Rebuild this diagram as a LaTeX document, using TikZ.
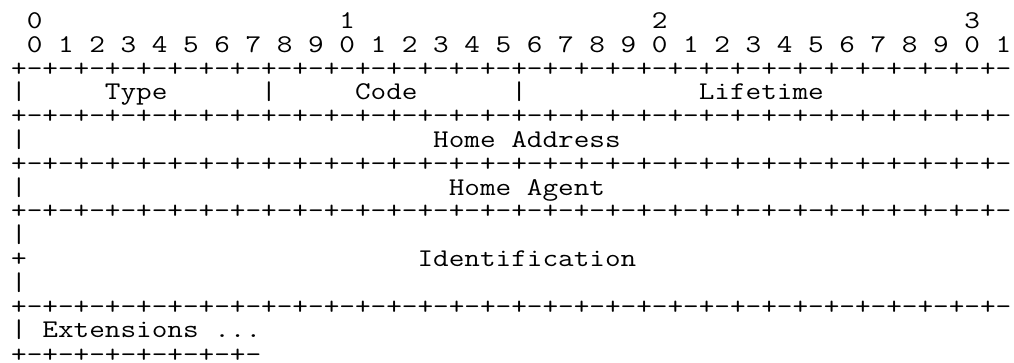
\documentclass[tikz,border=0pt]{standalone}
\usepackage{fontspec}
\usepackage{graphicx}
\newcommand\gap[1]{\hskip#1\fontcharwd\font`\0\relax}
\newcommand\bd{+-+-+-+-+-+-+-+-}
\newcommand\fullbd{\bd\bd\bd\bd}
\newcommand\mono[1]{\scalebox{1.19}[1]{#1}}
\begin{document}
\frenchspacing
\begin{tikzpicture}[x=1pt,y=1pt,
  asciirow/.style={anchor=base west, inner sep=0pt, outer sep=0pt,
    font=\fontsize{25.5pt}{23.8pt}\selectfont\ttfamily, text=black}]
\useasboundingbox (0,0) rectangle (1014,-362);
\node[asciirow] (L0)  at (11.2,-28.5)  {\mono{\gap{1}0\gap{19}1\gap{19}2\gap{19}3}};
\node[asciirow] (L1)  at (11.2,-52.3)  {\mono{\gap{1}0 1 2 3 4 5 6 7 8 9 0 1 2 3 4 5 6 7 8 9 0 1 2 3 4 5 6 7 8 9 0 1}};
\node[asciirow] (L2)  at (11.2,-76.1)  {\mono{\fullbd}};
\node[asciirow] (L3)  at (11.2,-99.9)  {\mono{|\gap{5}Type\gap{6}|\gap{5}Code\gap{6}|\gap{11}Lifetime}};
\node[asciirow] (L4)  at (11.2,-123.7) {\mono{\fullbd}};
\node[asciirow] (L5)  at (11.2,-147.5) {\mono{|\gap{26}Home Address}};
\node[asciirow] (L6)  at (11.2,-171.3) {\mono{\fullbd}};
\node[asciirow] (L7)  at (11.2,-195.1) {\mono{|\gap{27}Home Agent}};
\node[asciirow] (L8)  at (11.2,-218.9) {\mono{\fullbd}};
\node[asciirow] (L9)  at (11.2,-242.7) {\mono{|}};
\node[asciirow] (L10) at (11.2,-266.5) {\mono{+\gap{25}Identification}};
\node[asciirow] (L11) at (11.2,-290.3) {\mono{|}};
\node[asciirow] (L12) at (11.2,-314.1) {\mono{\fullbd}};
\node[asciirow] (L13) at (11.2,-337.9) {\mono{|\gap{1}Extensions ...}};
\node[asciirow] (L14) at (11.2,-362) {\mono{\bd}};
\end{tikzpicture}
\end{document}
